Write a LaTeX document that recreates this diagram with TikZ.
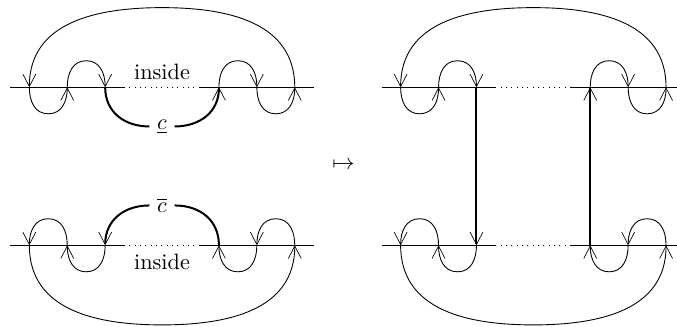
\documentclass[tikz,border=0pt]{standalone}
\usepackage{amsmath,amssymb}
\usetikzlibrary{arrows.meta,calc}

\begin{document}
\begin{tikzpicture}[
  every to/.style={looseness=1.08},
  strand/.style={-{Straight Barb[length=5.6pt,width=5.8pt,line width=.3pt]}},
  cutpath/.style={line width=.9pt, looseness=.95},
]
\useasboundingbox (-.464,-1.293) rectangle (10.248,3.881);

% crossing points of the four rows
\foreach \r/\x/\y in {a/0/2.5, b/0/0, ra/5.875/2.5, rb/5.875/0}
  \foreach \i/\d in {s/-.3, 1/0, 2/.6, 3/1.2, g/1.5, h/2.7, 4/3, 5/3.6, 6/4.2, e/4.5}
    \coordinate (\r\i) at (\x+\d,\y);
\coordinate (rae) at (10.248,2.5);
\coordinate (rbe) at (10.248,0);

% horizontal lines with the dotted gap
\foreach \r in {a,b,ra,rb} {
  \draw (\r s) -- (\r g);
  \draw[dotted] (\r g) -- (\r h);
  \draw (\r h) -- (\r e);
}

% arcs: start/end/apex height/side/incoming angle at the apex
\foreach \p/\q/\h/\v/\w in {
    a6/a1/1.26/90/0, a1/a2/-.42/-90/180, a2/a3/.42/90/180, a4/a5/.42/90/180, a5/a6/-.42/-90/180,
    b1/b6/-1.26/-90/180, b2/b1/.42/90/0, b3/b2/-.42/-90/0, b5/b4/-.42/-90/0, b6/b5/.42/90/0,
    ra6/ra1/1.26/90/0, ra1/ra2/-.42/-90/180, ra2/ra3/.42/90/180, ra4/ra5/.42/90/180, ra5/ra6/-.42/-90/180,
    rb1/rb6/-1.26/-90/180, rb2/rb1/.42/90/0, rb3/rb2/-.42/-90/0, rb5/rb4/-.42/-90/0, rb6/rb5/.42/90/0}
  \draw[strand] (\p) to[out=\v,in=\w] ($(\p)!.5!(\q)+(0,\h)$) to[out=\w+180,in=\v] (\q);

% labels
\node (insidea) at (2.1,2.75) {inside};
\node (insideb) at (2.1,-.26) {inside};
\node (cunder) at (2.1,1.88) {$\underline{c}$};
\node (cover) at (2.1,.63) {$\overline{c}$};
\node (map) at (4.97,1.26) {$\mapsto$};

% thick strands
\draw[cutpath] (a3) to[out=-90,in=180] (cunder);
\draw[cutpath,strand] (cunder) to[out=0,in=-90] (a4);
\draw[cutpath] (b4) to[out=90,in=0] (cover);
\draw[cutpath,strand] (cover) to[out=180,in=90] (b3);
\draw[cutpath,strand] (ra3) -- (rb3);
\draw[cutpath,strand] (rb4) -- (ra4);

\end{tikzpicture}
\end{document}
